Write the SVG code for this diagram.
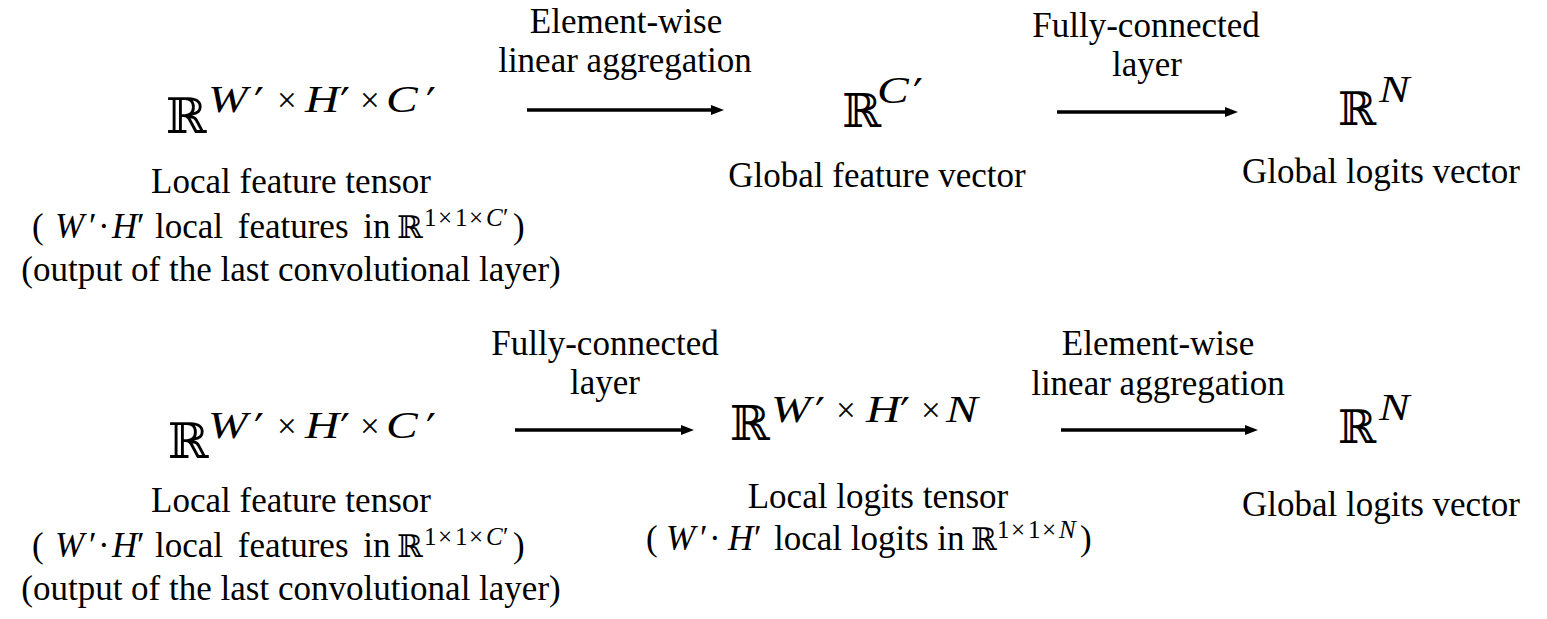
<svg xmlns="http://www.w3.org/2000/svg" width="1547" height="619" viewBox="0 0 1547 619">
<style>
.t{font-family:"Liberation Serif","Times New Roman",serif;font-size:35px;fill:#000}
.c{text-anchor:middle}
.bb{font-family:"DejaVu Serif",serif;fill:#000}
.mi{font-family:"Liberation Serif","Times New Roman",serif;font-style:italic;font-size:38px;fill:#000}
.mo{font-family:"Liberation Serif","Times New Roman",serif;font-size:35px;fill:#000}
.pr{font-family:"DejaVu Sans",sans-serif;font-size:44px;fill:#000}
.ii{font-style:italic}
.sm{font-size:25px}
.arr{stroke:#000;stroke-width:3.5;fill:none}
</style>
<defs>
<marker id="ah" viewBox="0 0 13 10" refX="0" refY="5" markerUnits="userSpaceOnUse" markerWidth="13" markerHeight="10" orient="auto">
<path d="M0,0 L13,5 L0,10 z" fill="#000"/>
</marker>
</defs>
<rect width="1547" height="619" fill="#fff"/>

<g id="connectors">
<line class="arr" x1="527" y1="110" x2="711" y2="110" marker-end="url(#ah)"/>
<line class="arr" x1="1057" y1="112" x2="1225" y2="112" marker-end="url(#ah)"/>
<line class="arr" x1="515" y1="430" x2="681" y2="430" marker-end="url(#ah)"/>
<line class="arr" x1="1061" y1="430" x2="1245" y2="430" marker-end="url(#ah)"/>
</g>

<g id="edge-labels">
<text class="t c" x="626" y="33">Element-wise</text>
<text class="t c" x="625" y="72">linear aggregation</text>
<text class="t c" x="1146" y="37">Fully-connected</text>
<text class="t c" x="1147" y="76">layer</text>
<text class="t c" x="605" y="355">Fully-connected</text>
<text class="t c" x="605" y="394">layer</text>
<text class="t c" x="1158" y="355">Element-wise</text>
<text class="t c" x="1158" y="395">linear aggregation</text>
</g>

<g id="node-local-features-1">
<text class="bb" x="166" y="133" font-size="49">ℝ</text>
<text class="mi" transform="matrix(1.25 0 0 1 208 112)">W</text>
<text class="mo" x="277" y="112">×</text>
<text class="mi" transform="matrix(1.25 0 0 1 305 112)">H</text>
<text class="mo" x="360" y="112">×</text>
<text class="mi" transform="matrix(1.25 0 0 1 386 112)">C</text>
<text class="pr" y="120"><tspan x="254">′</tspan><tspan x="340">′</tspan><tspan x="426">′</tspan></text>
<text class="t c" x="291" y="193">Local feature tensor</text>
<text class="t" y="238"><tspan x="32">(</tspan><tspan x="55" class="ii">W</tspan><tspan x="89">′</tspan><tspan x="98">·</tspan><tspan x="112" class="ii">H</tspan><tspan x="137">′</tspan><tspan x="155" word-spacing="6">local features in</tspan><tspan x="513">)</tspan></text>
<text class="bb" x="397" y="238" font-size="31">ℝ</text>
<text class="t sm" y="226"><tspan x="424">1</tspan><tspan x="438">×</tspan><tspan x="455">1</tspan><tspan x="469">×</tspan><tspan x="486" class="ii">C</tspan><tspan x="503">′</tspan></text>
<text class="t c" x="291" y="281">(output of the last convolutional layer)</text>
</g>

<g id="node-global-feature">
<text class="bb" x="842" y="127" font-size="47">ℝ</text>
<text class="mi" transform="matrix(1.25 0 0 1 877 103)">C</text>
<text class="pr" x="913" y="111">′</text>
<text class="t c" x="877" y="187">Global feature vector</text>
</g>

<g id="node-global-logits-1">
<text class="bb" x="1338" y="125" font-size="46">ℝ</text>
<text class="mi" transform="matrix(1.2 0 0 1 1379 102)">N</text>
<text class="t c" x="1381" y="183">Global logits vector</text>
</g>

<g id="node-local-features-2">
<text class="bb" x="168" y="458" font-size="49">ℝ</text>
<text class="mi" transform="matrix(1.25 0 0 1 208 438)">W</text>
<text class="mo" x="277" y="438">×</text>
<text class="mi" transform="matrix(1.25 0 0 1 305 438)">H</text>
<text class="mo" x="360" y="438">×</text>
<text class="mi" transform="matrix(1.25 0 0 1 386 438)">C</text>
<text class="pr" y="446"><tspan x="254">′</tspan><tspan x="340">′</tspan><tspan x="426">′</tspan></text>
<text class="t c" x="291" y="512">Local feature tensor</text>
<text class="t" y="557"><tspan x="32">(</tspan><tspan x="55" class="ii">W</tspan><tspan x="89">′</tspan><tspan x="98">·</tspan><tspan x="112" class="ii">H</tspan><tspan x="137">′</tspan><tspan x="155" word-spacing="6">local features in</tspan><tspan x="513">)</tspan></text>
<text class="bb" x="397" y="557" font-size="31">ℝ</text>
<text class="t sm" y="545"><tspan x="424">1</tspan><tspan x="438">×</tspan><tspan x="455">1</tspan><tspan x="469">×</tspan><tspan x="486" class="ii">C</tspan><tspan x="503">′</tspan></text>
<text class="t c" x="291" y="600">(output of the last convolutional layer)</text>
</g>

<g id="node-local-logits">
<text class="bb" x="730" y="440" font-size="48">ℝ</text>
<text class="mi" transform="matrix(1.25 0 0 1 771 422)">W</text>
<text class="mo" x="836" y="422">×</text>
<text class="mi" transform="matrix(1.25 0 0 1 866 422)">H</text>
<text class="mo" x="921" y="422">×</text>
<text class="mi" transform="matrix(1.25 0 0 1 946 422)">N</text>
<text class="pr" y="430"><tspan x="815">′</tspan><tspan x="900">′</tspan></text>
<text class="t c" x="878" y="508">Local logits tensor</text>
<text class="t" y="550"><tspan x="646">(</tspan><tspan x="666" class="ii">W</tspan><tspan x="700">′</tspan><tspan x="709">·</tspan><tspan x="728" class="ii">H</tspan><tspan x="754">′</tspan><tspan x="774">local logits in</tspan><tspan x="1080">)</tspan></text>
<text class="bb" x="971" y="550" font-size="31">ℝ</text>
<text class="t sm" y="538"><tspan x="997">1</tspan><tspan x="1011">×</tspan><tspan x="1028">1</tspan><tspan x="1042">×</tspan><tspan x="1059" class="ii">N</tspan></text>
</g>

<g id="node-global-logits-2">
<text class="bb" x="1338" y="443" font-size="46">ℝ</text>
<text class="mi" transform="matrix(1.2 0 0 1 1379 420)">N</text>
<text class="t c" x="1381" y="516">Global logits vector</text>
</g>
</svg>
